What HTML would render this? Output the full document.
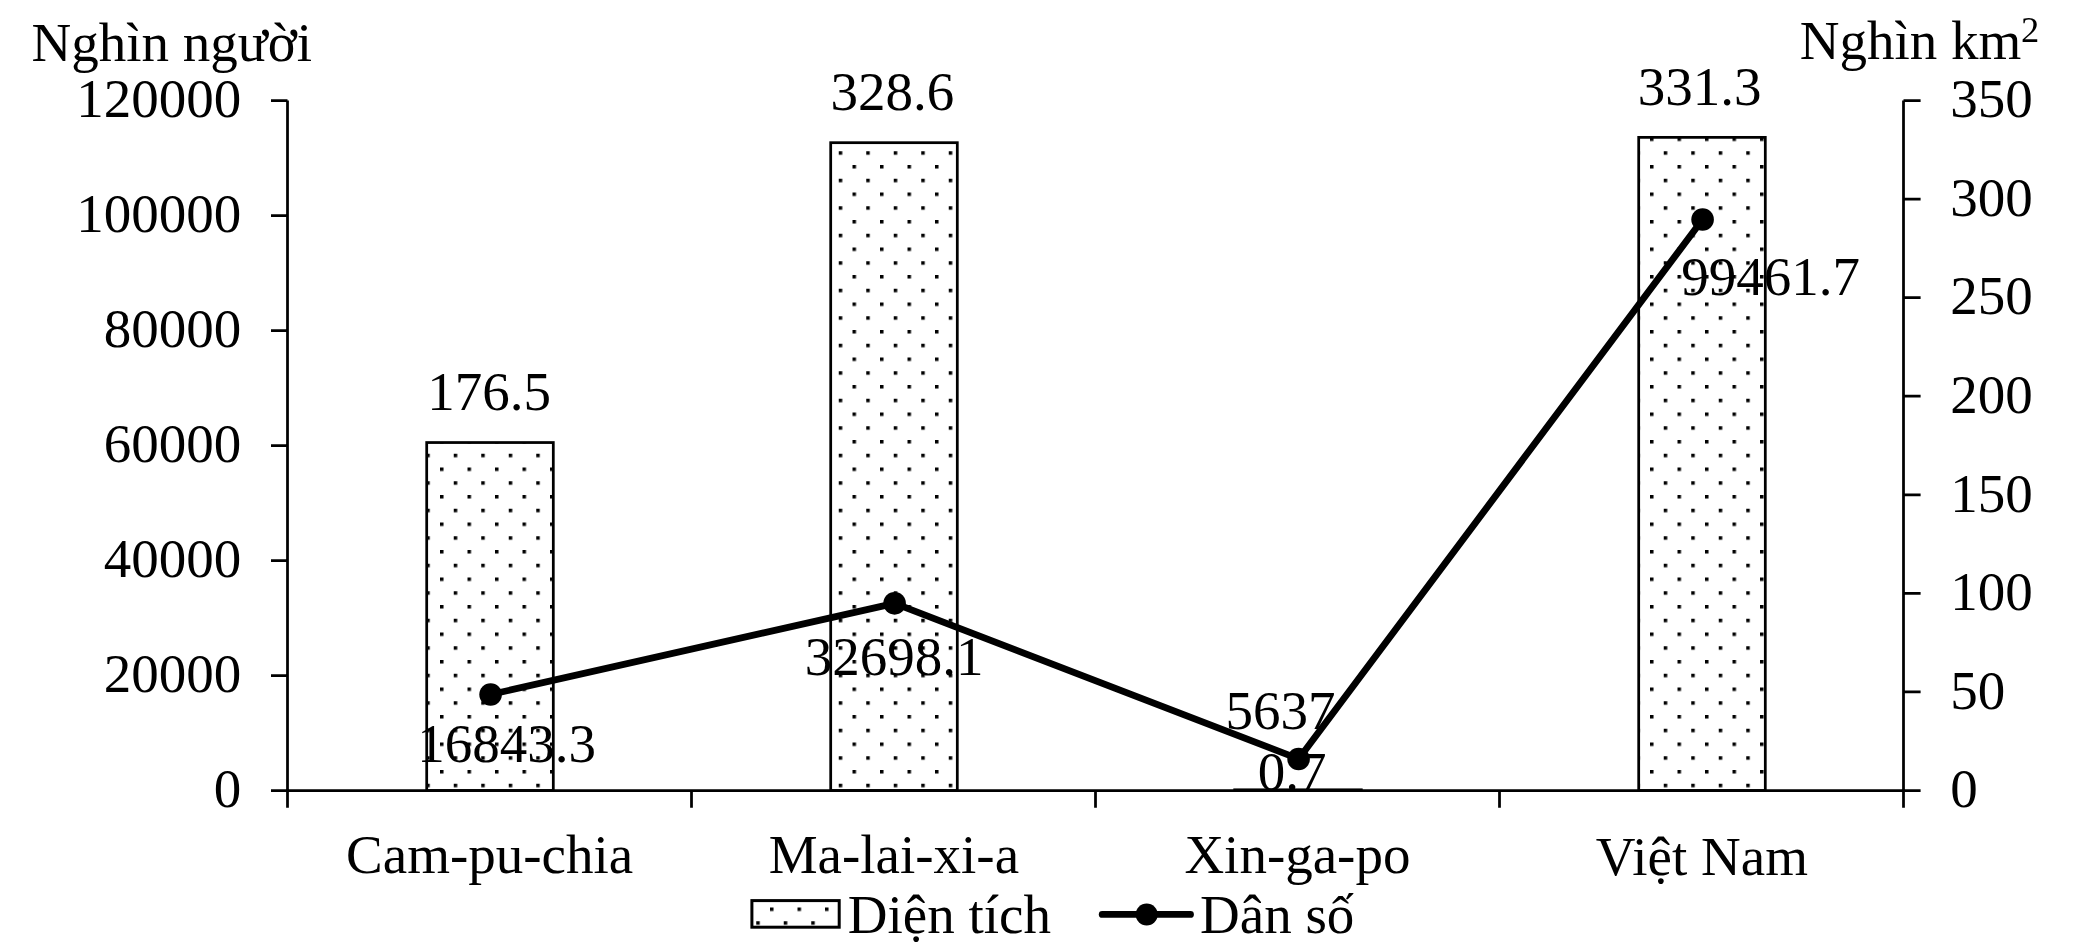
<!DOCTYPE html>
<html><head><meta charset="utf-8"><style>
html,body{margin:0;padding:0;background:#fff;overflow:hidden;}
svg{display:block;font-family:"Liberation Serif",serif;will-change:transform;}
</style></head><body>

<svg width="2083" height="950" viewBox="0 0 2083 950">
<defs><pattern id="dots" patternUnits="userSpaceOnUse" x="0" y="0" width="27.5" height="27.5"><rect x="0" y="0" width="3.5" height="3.5" fill="#000"/><rect x="13.75" y="13.75" width="3.5" height="3.5" fill="#000"/></pattern></defs>
<rect x="0" y="0" width="2083" height="950" fill="#fff"/>
<rect x="426.70" y="442.54" width="126.60" height="347.96" fill="url(#dots)" stroke="#000" stroke-width="2.75"/>
<rect x="830.70" y="142.69" width="126.60" height="647.81" fill="url(#dots)" stroke="#000" stroke-width="2.75"/>
<rect x="1234.70" y="789.80" width="126.60" height="0.70" fill="url(#dots)" stroke="#000" stroke-width="2.75"/>
<rect x="1638.70" y="137.37" width="126.60" height="653.13" fill="url(#dots)" stroke="#000" stroke-width="2.75"/>
<path d="M287.5 100.5V807.7M1903.5 100.5V807.7M271 790.5H1920.6M271 100.50H287.5M271 215.50H287.5M271 330.50H287.5M271 445.50H287.5M271 560.50H287.5M271 675.50H287.5M271 790.50H287.5M1903.5 100.50H1920.6M1903.5 199.07H1920.6M1903.5 297.64H1920.6M1903.5 396.21H1920.6M1903.5 494.79H1920.6M1903.5 593.36H1920.6M1903.5 691.93H1920.6M1903.5 790.50H1920.6M691.5 790.5V807.7M1095.5 790.5V807.7M1499.5 790.5V807.7" stroke="#000" stroke-width="2.75" fill="none"/>
<path d="M490.60 694.50 L894.60 603.34 L1298.60 758.94 L1702.60 219.45" stroke="#000" stroke-width="6.8" fill="none" stroke-linejoin="round"/>
<circle cx="490.60" cy="694.50" r="11.3" fill="#000"/>
<circle cx="894.60" cy="603.34" r="11.3" fill="#000"/>
<circle cx="1298.60" cy="758.94" r="11.3" fill="#000"/>
<circle cx="1702.60" cy="219.45" r="11.3" fill="#000"/>
<g font-family="Liberation Serif" fill="#000">
<text x="31.6" y="61" text-anchor="start" font-size="55">Nghìn người</text>
<text x="1799.7" y="58.9" text-anchor="start" font-size="55">Nghìn km</text>
<text x="2021" y="42.2" text-anchor="start" font-size="36.5" opacity="0.995">2</text>
<text x="241.3" y="117.3" text-anchor="end" font-size="55">120000</text>
<text x="241.3" y="232.3" text-anchor="end" font-size="55">100000</text>
<text x="241.3" y="347.3" text-anchor="end" font-size="55">80000</text>
<text x="241.3" y="462.3" text-anchor="end" font-size="55">60000</text>
<text x="241.3" y="577.3" text-anchor="end" font-size="55">40000</text>
<text x="241.3" y="692.3" text-anchor="end" font-size="55">20000</text>
<text x="241.3" y="807.3" text-anchor="end" font-size="55">0</text>
<text x="1950.3" y="117.3" text-anchor="start" font-size="55">350</text>
<text x="1950.3" y="215.87" text-anchor="start" font-size="55">300</text>
<text x="1950.3" y="314.44" text-anchor="start" font-size="55">250</text>
<text x="1950.3" y="413.01" text-anchor="start" font-size="55">200</text>
<text x="1950.3" y="511.59" text-anchor="start" font-size="55">150</text>
<text x="1950.3" y="610.16" text-anchor="start" font-size="55">100</text>
<text x="1950.3" y="708.73" text-anchor="start" font-size="55">50</text>
<text x="1950.3" y="807.3" text-anchor="start" font-size="55">0</text>
<text x="489" y="409.7" text-anchor="middle" font-size="55">176.5</text>
<text x="892.3" y="109.7" text-anchor="middle" font-size="55">328.6</text>
<text x="1292.2" y="789.8" text-anchor="middle" font-size="55">0.7</text>
<text x="1699.7" y="104.5" text-anchor="middle" font-size="55">331.3</text>
<text x="506.6" y="762.4" text-anchor="middle" font-size="55">16843.3</text>
<text x="894" y="674.9" text-anchor="middle" font-size="55">32698.1</text>
<text x="1280.5" y="728.6" text-anchor="middle" font-size="55">5637</text>
<text x="1770.6" y="294.9" text-anchor="middle" font-size="55">99461.7</text>
<text x="489.6" y="873" text-anchor="middle" font-size="55">Cam-pu-chia</text>
<text x="893.9" y="873" text-anchor="middle" font-size="55">Ma-lai-xi-a</text>
<text x="1297.4" y="873" text-anchor="middle" font-size="55">Xin-ga-po</text>
<text x="1701.9" y="874.8" text-anchor="middle" font-size="55">Việt Nam</text>
<text x="847.8" y="933.4" text-anchor="start" font-size="55">Diện tích</text>
<text x="1200" y="932.9" text-anchor="start" font-size="55">Dân số</text>
</g>
<rect x="751.9" y="900.6" width="87.3" height="26.6" fill="url(#dots)" stroke="#000" stroke-width="3"/>
<path d="M1102.2 914.4H1190.5" stroke="#000" stroke-width="6.8" stroke-linecap="round"/>
<circle cx="1146.7" cy="914.5" r="11" fill="#000"/>
</svg>
</body></html>
